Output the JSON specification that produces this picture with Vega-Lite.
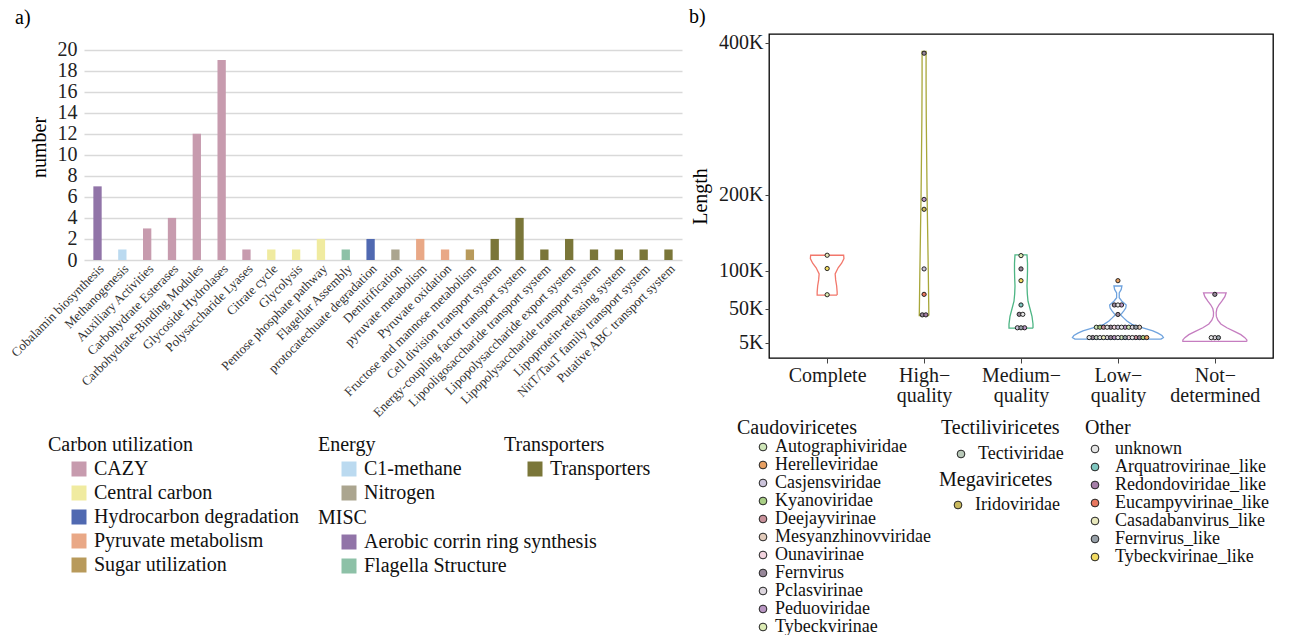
{
  "$schema": "https://vega.github.io/schema/vega-lite/v6.json",
  "padding": {"left": 8, "top": 6, "right": 5, "bottom": 5},
  "bounds": "flush",
  "spacing": 87,
  "config": {
    "font": "Liberation Serif",
    "view": {"stroke": null},
    "title": {"font": "Liberation Serif", "fontSize": 20, "fontWeight": "normal", "anchor": "start", "color": "#000"},
    "legend": {"titleFont": "Liberation Serif", "labelFont": "Liberation Serif", "titleFontSize": 20, "labelFontSize": 20, "titleFontWeight": "normal", "titleColor": "#111", "labelColor": "#111", "padding": 0, "labelLimit": 400, "titleLimit": 400, "orient": "none"}
  },
  "datasets": {
    "bars": [
      {"pathway": "Cobalamin biosynthesis", "number": 7, "group": "MISC", "sub": "Aerobic corrin ring synthesis"},
      {"pathway": "Methanogenesis", "number": 1, "group": "Energy", "sub": "C1-methane"},
      {"pathway": "Auxiliary Activities", "number": 3, "group": "Carbon utilization", "sub": "CAZY"},
      {"pathway": "Carbohydrate Esterases", "number": 4, "group": "Carbon utilization", "sub": "CAZY"},
      {"pathway": "Carbohydrate-Binding Modules", "number": 12, "group": "Carbon utilization", "sub": "CAZY"},
      {"pathway": "Glycoside Hydrolases", "number": 19, "group": "Carbon utilization", "sub": "CAZY"},
      {"pathway": "Polysaccharide Lyases", "number": 1, "group": "Carbon utilization", "sub": "CAZY"},
      {"pathway": "Citrate cycle", "number": 1, "group": "Carbon utilization", "sub": "Central carbon"},
      {"pathway": "Glycolysis", "number": 1, "group": "Carbon utilization", "sub": "Central carbon"},
      {"pathway": "Pentose phosphate pathway", "number": 2, "group": "Carbon utilization", "sub": "Central carbon"},
      {"pathway": "Flagellar Assembly", "number": 1, "group": "MISC", "sub": "Flagella Structure"},
      {"pathway": "protocatechuate degradation", "number": 2, "group": "Carbon utilization", "sub": "Hydrocarbon degradation"},
      {"pathway": "Denitrification", "number": 1, "group": "Energy", "sub": "Nitrogen"},
      {"pathway": "pyruvate metabolism", "number": 2, "group": "Carbon utilization", "sub": "Pyruvate metabolism"},
      {"pathway": "Pyruvate oxidation", "number": 1, "group": "Carbon utilization", "sub": "Pyruvate metabolism"},
      {"pathway": "Fructose and mannose metabolism", "number": 1, "group": "Carbon utilization", "sub": "Sugar utilization"},
      {"pathway": "Cell division transport system", "number": 2, "group": "Transporters", "sub": "Transporters"},
      {"pathway": "Energy-coupling factor transport system", "number": 4, "group": "Transporters", "sub": "Transporters"},
      {"pathway": "Lipooligosaccharide transport system", "number": 1, "group": "Transporters", "sub": "Transporters"},
      {"pathway": "Lipopolysaccharide export system", "number": 2, "group": "Transporters", "sub": "Transporters"},
      {"pathway": "Lipopolysaccharide transport system", "number": 1, "group": "Transporters", "sub": "Transporters"},
      {"pathway": "Lipoprotein-releasing system", "number": 1, "group": "Transporters", "sub": "Transporters"},
      {"pathway": "NitT/TauT family transport system", "number": 1, "group": "Transporters", "sub": "Transporters"},
      {"pathway": "Putative ABC transport system", "number": 1, "group": "Transporters", "sub": "Transporters"}
    ],
    "violin": [
      {"quality": "Complete", "Length": 68000, "density": 10, "o": 1},
      {"quality": "Complete", "Length": 72000, "density": 10, "o": 2},
      {"quality": "Complete", "Length": 80000, "density": 9.5, "o": 3},
      {"quality": "Complete", "Length": 88000, "density": 8.5, "o": 4},
      {"quality": "Complete", "Length": 96000, "density": 8, "o": 5},
      {"quality": "Complete", "Length": 104000, "density": 11, "o": 6},
      {"quality": "Complete", "Length": 110000, "density": 14.5, "o": 7},
      {"quality": "Complete", "Length": 116000, "density": 16.8, "o": 8},
      {"quality": "Complete", "Length": 120500, "density": 16.5, "o": 9},
      {"quality": "Complete", "Length": 120500, "density": -16.5, "o": 10},
      {"quality": "Complete", "Length": 116000, "density": -16.8, "o": 11},
      {"quality": "Complete", "Length": 110000, "density": -14.5, "o": 12},
      {"quality": "Complete", "Length": 104000, "density": -11, "o": 13},
      {"quality": "Complete", "Length": 96000, "density": -8, "o": 14},
      {"quality": "Complete", "Length": 88000, "density": -8.5, "o": 15},
      {"quality": "Complete", "Length": 80000, "density": -9.5, "o": 16},
      {"quality": "Complete", "Length": 72000, "density": -10, "o": 17},
      {"quality": "Complete", "Length": 68000, "density": -10, "o": 18},
      {"quality": "Complete", "Length": 68000, "density": 10, "o": 19},
      {"quality": "High-quality", "Length": 41000, "density": 4.8, "o": 1},
      {"quality": "High-quality", "Length": 60000, "density": 4.6, "o": 2},
      {"quality": "High-quality", "Length": 100000, "density": 4.2, "o": 3},
      {"quality": "High-quality", "Length": 150000, "density": 3.6, "o": 4},
      {"quality": "High-quality", "Length": 200000, "density": 3.0, "o": 5},
      {"quality": "High-quality", "Length": 250000, "density": 2.6, "o": 6},
      {"quality": "High-quality", "Length": 300000, "density": 2.2, "o": 7},
      {"quality": "High-quality", "Length": 350000, "density": 2.0, "o": 8},
      {"quality": "High-quality", "Length": 389000, "density": 2.0, "o": 9},
      {"quality": "High-quality", "Length": 389000, "density": -2.0, "o": 10},
      {"quality": "High-quality", "Length": 350000, "density": -2.0, "o": 11},
      {"quality": "High-quality", "Length": 300000, "density": -2.2, "o": 12},
      {"quality": "High-quality", "Length": 250000, "density": -2.6, "o": 13},
      {"quality": "High-quality", "Length": 200000, "density": -3.0, "o": 14},
      {"quality": "High-quality", "Length": 150000, "density": -3.6, "o": 15},
      {"quality": "High-quality", "Length": 100000, "density": -4.2, "o": 16},
      {"quality": "High-quality", "Length": 60000, "density": -4.6, "o": 17},
      {"quality": "High-quality", "Length": 41000, "density": -4.8, "o": 18},
      {"quality": "High-quality", "Length": 41000, "density": 4.8, "o": 19},
      {"quality": "Medium-quality", "Length": 24500, "density": 12, "o": 1},
      {"quality": "Medium-quality", "Length": 30000, "density": 12, "o": 2},
      {"quality": "Medium-quality", "Length": 40000, "density": 11, "o": 3},
      {"quality": "Medium-quality", "Length": 50000, "density": 9, "o": 4},
      {"quality": "Medium-quality", "Length": 60000, "density": 7, "o": 5},
      {"quality": "Medium-quality", "Length": 70000, "density": 6.3, "o": 6},
      {"quality": "Medium-quality", "Length": 80000, "density": 6, "o": 7},
      {"quality": "Medium-quality", "Length": 90000, "density": 6.3, "o": 8},
      {"quality": "Medium-quality", "Length": 100000, "density": 6.5, "o": 9},
      {"quality": "Medium-quality", "Length": 110000, "density": 6.5, "o": 10},
      {"quality": "Medium-quality", "Length": 121000, "density": 6, "o": 11},
      {"quality": "Medium-quality", "Length": 121000, "density": -6, "o": 12},
      {"quality": "Medium-quality", "Length": 110000, "density": -6.5, "o": 13},
      {"quality": "Medium-quality", "Length": 100000, "density": -6.5, "o": 14},
      {"quality": "Medium-quality", "Length": 90000, "density": -6.3, "o": 15},
      {"quality": "Medium-quality", "Length": 80000, "density": -6, "o": 16},
      {"quality": "Medium-quality", "Length": 70000, "density": -6.3, "o": 17},
      {"quality": "Medium-quality", "Length": 60000, "density": -7, "o": 18},
      {"quality": "Medium-quality", "Length": 50000, "density": -9, "o": 19},
      {"quality": "Medium-quality", "Length": 40000, "density": -11, "o": 20},
      {"quality": "Medium-quality", "Length": 30000, "density": -12, "o": 21},
      {"quality": "Medium-quality", "Length": 24500, "density": -12, "o": 22},
      {"quality": "Medium-quality", "Length": 24500, "density": 12, "o": 23},
      {"quality": "Low-quality", "Length": 10000, "density": 43, "o": 1},
      {"quality": "Low-quality", "Length": 12000, "density": 45.5, "o": 2},
      {"quality": "Low-quality", "Length": 15000, "density": 44, "o": 3},
      {"quality": "Low-quality", "Length": 18000, "density": 40, "o": 4},
      {"quality": "Low-quality", "Length": 21000, "density": 35, "o": 5},
      {"quality": "Low-quality", "Length": 25000, "density": 25, "o": 6},
      {"quality": "Low-quality", "Length": 29500, "density": 14, "o": 7},
      {"quality": "Low-quality", "Length": 34000, "density": 9, "o": 8},
      {"quality": "Low-quality", "Length": 38000, "density": 5.7, "o": 9},
      {"quality": "Low-quality", "Length": 42000, "density": 2.7, "o": 10},
      {"quality": "Low-quality", "Length": 47000, "density": 5.7, "o": 11},
      {"quality": "Low-quality", "Length": 51000, "density": 7.8, "o": 12},
      {"quality": "Low-quality", "Length": 55000, "density": 8.3, "o": 13},
      {"quality": "Low-quality", "Length": 60000, "density": 4, "o": 14},
      {"quality": "Low-quality", "Length": 64500, "density": 1.3, "o": 15},
      {"quality": "Low-quality", "Length": 71000, "density": 1.3, "o": 16},
      {"quality": "Low-quality", "Length": 75500, "density": 3.3, "o": 17},
      {"quality": "Low-quality", "Length": 80000, "density": 4, "o": 18},
      {"quality": "Low-quality", "Length": 80000, "density": -4, "o": 19},
      {"quality": "Low-quality", "Length": 75500, "density": -3.3, "o": 20},
      {"quality": "Low-quality", "Length": 71000, "density": -1.3, "o": 21},
      {"quality": "Low-quality", "Length": 64500, "density": -1.3, "o": 22},
      {"quality": "Low-quality", "Length": 60000, "density": -4, "o": 23},
      {"quality": "Low-quality", "Length": 55000, "density": -8.3, "o": 24},
      {"quality": "Low-quality", "Length": 51000, "density": -7.8, "o": 25},
      {"quality": "Low-quality", "Length": 47000, "density": -5.7, "o": 26},
      {"quality": "Low-quality", "Length": 42000, "density": -2.7, "o": 27},
      {"quality": "Low-quality", "Length": 38000, "density": -5.7, "o": 28},
      {"quality": "Low-quality", "Length": 34000, "density": -9, "o": 29},
      {"quality": "Low-quality", "Length": 29500, "density": -14, "o": 30},
      {"quality": "Low-quality", "Length": 25000, "density": -25, "o": 31},
      {"quality": "Low-quality", "Length": 21000, "density": -35, "o": 32},
      {"quality": "Low-quality", "Length": 18000, "density": -40, "o": 33},
      {"quality": "Low-quality", "Length": 15000, "density": -44, "o": 34},
      {"quality": "Low-quality", "Length": 12000, "density": -45.5, "o": 35},
      {"quality": "Low-quality", "Length": 10000, "density": -43, "o": 36},
      {"quality": "Low-quality", "Length": 10000, "density": 43, "o": 37},
      {"quality": "Not-determined", "Length": 7000, "density": 32, "o": 1},
      {"quality": "Not-determined", "Length": 9000, "density": 32, "o": 2},
      {"quality": "Not-determined", "Length": 12000, "density": 30, "o": 3},
      {"quality": "Not-determined", "Length": 16000, "density": 26, "o": 4},
      {"quality": "Not-determined", "Length": 20000, "density": 20, "o": 5},
      {"quality": "Not-determined", "Length": 25000, "density": 12, "o": 6},
      {"quality": "Not-determined", "Length": 30000, "density": 6, "o": 7},
      {"quality": "Not-determined", "Length": 35000, "density": 3, "o": 8},
      {"quality": "Not-determined", "Length": 40000, "density": 1.5, "o": 9},
      {"quality": "Not-determined", "Length": 45000, "density": 1.3, "o": 10},
      {"quality": "Not-determined", "Length": 50000, "density": 2, "o": 11},
      {"quality": "Not-determined", "Length": 55000, "density": 4, "o": 12},
      {"quality": "Not-determined", "Length": 60000, "density": 7, "o": 13},
      {"quality": "Not-determined", "Length": 66000, "density": 10, "o": 14},
      {"quality": "Not-determined", "Length": 71000, "density": 11.3, "o": 15},
      {"quality": "Not-determined", "Length": 71000, "density": -11.3, "o": 16},
      {"quality": "Not-determined", "Length": 66000, "density": -10, "o": 17},
      {"quality": "Not-determined", "Length": 60000, "density": -7, "o": 18},
      {"quality": "Not-determined", "Length": 55000, "density": -4, "o": 19},
      {"quality": "Not-determined", "Length": 50000, "density": -2, "o": 20},
      {"quality": "Not-determined", "Length": 45000, "density": -1.3, "o": 21},
      {"quality": "Not-determined", "Length": 40000, "density": -1.5, "o": 22},
      {"quality": "Not-determined", "Length": 35000, "density": -3, "o": 23},
      {"quality": "Not-determined", "Length": 30000, "density": -6, "o": 24},
      {"quality": "Not-determined", "Length": 25000, "density": -12, "o": 25},
      {"quality": "Not-determined", "Length": 20000, "density": -20, "o": 26},
      {"quality": "Not-determined", "Length": 16000, "density": -26, "o": 27},
      {"quality": "Not-determined", "Length": 12000, "density": -30, "o": 28},
      {"quality": "Not-determined", "Length": 9000, "density": -32, "o": 29},
      {"quality": "Not-determined", "Length": 7000, "density": -32, "o": 30},
      {"quality": "Not-determined", "Length": 7000, "density": 32, "o": 31}
    ],
    "dots": [
      {"quality": "Complete", "Length": 120500, "family": "Casadabanvirus_like", "class": "Other"},
      {"quality": "Complete", "Length": 103000, "family": "Tybeckvirinae_like", "class": "Other"},
      {"quality": "Complete", "Length": 68500, "family": "Tybeckvirinae", "class": "Caudoviricetes"},
      {"quality": "High-quality", "Length": 386500, "family": "Fernvirus", "class": "Caudoviricetes"},
      {"quality": "High-quality", "Length": 194000, "family": "Peduoviridae", "class": "Caudoviricetes"},
      {"quality": "High-quality", "Length": 181000, "family": "Iridoviridae", "class": "Megaviricetes"},
      {"quality": "High-quality", "Length": 102500, "family": "Casjensviridae", "class": "Caudoviricetes"},
      {"quality": "High-quality", "Length": 69000, "family": "Eucampyvirinae_like", "class": "Other"},
      {"quality": "High-quality", "Length": 42000, "family": "Fernvirus", "class": "Caudoviricetes"},
      {"quality": "High-quality", "Length": 42000, "family": "Redondoviridae_like", "class": "Other"},
      {"quality": "Medium-quality", "Length": 120000, "family": "Tybeckvirinae", "class": "Caudoviricetes"},
      {"quality": "Medium-quality", "Length": 102500, "family": "Fernvirus", "class": "Caudoviricetes"},
      {"quality": "Medium-quality", "Length": 87000, "family": "Tybeckvirinae_like", "class": "Other"},
      {"quality": "Medium-quality", "Length": 55000, "family": "Arquatrovirinae_like", "class": "Other"},
      {"quality": "Medium-quality", "Length": 42700, "family": "Fernvirus", "class": "Caudoviricetes"},
      {"quality": "Medium-quality", "Length": 42700, "family": "unknown", "class": "Other"},
      {"quality": "Medium-quality", "Length": 25000, "family": "Casjensviridae", "class": "Caudoviricetes"},
      {"quality": "Medium-quality", "Length": 25000, "family": "Fernvirus_like", "class": "Other"},
      {"quality": "Medium-quality", "Length": 25000, "family": "Peduoviridae", "class": "Caudoviricetes"},
      {"quality": "Low-quality", "Length": 87000, "family": "Herelleviridae", "class": "Caudoviricetes"},
      {"quality": "Low-quality", "Length": 55000, "family": "Fernvirus", "class": "Caudoviricetes"},
      {"quality": "Low-quality", "Length": 55000, "family": "unknown", "class": "Other"},
      {"quality": "Low-quality", "Length": 55000, "family": "Peduoviridae", "class": "Caudoviricetes"},
      {"quality": "Low-quality", "Length": 42500, "family": "Fernvirus", "class": "Caudoviricetes"},
      {"quality": "Low-quality", "Length": 25700, "family": "Autographiviridae", "class": "Caudoviricetes"},
      {"quality": "Low-quality", "Length": 25700, "family": "Kyanoviridae", "class": "Caudoviricetes"},
      {"quality": "Low-quality", "Length": 25700, "family": "Deejayvirinae", "class": "Caudoviricetes"},
      {"quality": "Low-quality", "Length": 25700, "family": "unknown", "class": "Other"},
      {"quality": "Low-quality", "Length": 25700, "family": "Fernvirus", "class": "Caudoviricetes"},
      {"quality": "Low-quality", "Length": 25700, "family": "Ounavirinae", "class": "Caudoviricetes"},
      {"quality": "Low-quality", "Length": 25700, "family": "Casjensviridae", "class": "Caudoviricetes"},
      {"quality": "Low-quality", "Length": 25700, "family": "unknown", "class": "Other"},
      {"quality": "Low-quality", "Length": 25700, "family": "Peduoviridae", "class": "Caudoviricetes"},
      {"quality": "Low-quality", "Length": 25700, "family": "Autographiviridae", "class": "Caudoviricetes"},
      {"quality": "Low-quality", "Length": 25700, "family": "Pclasvirinae", "class": "Caudoviricetes"},
      {"quality": "Low-quality", "Length": 25700, "family": "Fernvirus_like", "class": "Other"},
      {"quality": "Low-quality", "Length": 25700, "family": "Mesyanzhinovviridae", "class": "Caudoviricetes"},
      {"quality": "Low-quality", "Length": 12100, "family": "unknown", "class": "Other"},
      {"quality": "Low-quality", "Length": 12100, "family": "Fernvirus", "class": "Caudoviricetes"},
      {"quality": "Low-quality", "Length": 12100, "family": "Tectiviridae", "class": "Tectiliviricetes"},
      {"quality": "Low-quality", "Length": 12100, "family": "unknown", "class": "Other"},
      {"quality": "Low-quality", "Length": 12100, "family": "Casadabanvirus_like", "class": "Other"},
      {"quality": "Low-quality", "Length": 12100, "family": "Pclasvirinae", "class": "Caudoviricetes"},
      {"quality": "Low-quality", "Length": 12100, "family": "Fernvirus", "class": "Caudoviricetes"},
      {"quality": "Low-quality", "Length": 12100, "family": "Peduoviridae", "class": "Caudoviricetes"},
      {"quality": "Low-quality", "Length": 12100, "family": "unknown", "class": "Other"},
      {"quality": "Low-quality", "Length": 12100, "family": "Autographiviridae", "class": "Caudoviricetes"},
      {"quality": "Low-quality", "Length": 12100, "family": "Fernvirus_like", "class": "Other"},
      {"quality": "Low-quality", "Length": 12100, "family": "Ounavirinae", "class": "Caudoviricetes"},
      {"quality": "Low-quality", "Length": 12100, "family": "unknown", "class": "Other"},
      {"quality": "Low-quality", "Length": 12100, "family": "Deejayvirinae", "class": "Caudoviricetes"},
      {"quality": "Low-quality", "Length": 12100, "family": "Fernvirus", "class": "Caudoviricetes"},
      {"quality": "Low-quality", "Length": 12100, "family": "Kyanoviridae", "class": "Caudoviricetes"},
      {"quality": "Low-quality", "Length": 12100, "family": "Herelleviridae", "class": "Caudoviricetes"},
      {"quality": "Not-determined", "Length": 69000, "family": "Fernvirus", "class": "Caudoviricetes"},
      {"quality": "Not-determined", "Length": 12000, "family": "unknown", "class": "Other"},
      {"quality": "Not-determined", "Length": 12000, "family": "Pclasvirinae", "class": "Caudoviricetes"},
      {"quality": "Not-determined", "Length": 12000, "family": "Fernvirus_like", "class": "Other"}
    ]
  },
  "hconcat": [
    {
      "width": 598,
      "height": 226,
      "title": {"text": "a)", "frame": "group", "anchor": "start", "dx": -69, "offset": 6},
      "data": {"name": "bars"},
      "encoding": {
        "x": {
          "field": "pathway", "type": "nominal",
          "scale": {"domain": ["Cobalamin biosynthesis", "Methanogenesis", "Auxiliary Activities", "Carbohydrate Esterases", "Carbohydrate-Binding Modules", "Glycoside Hydrolases", "Polysaccharide Lyases", "Citrate cycle", "Glycolysis", "Pentose phosphate pathway", "Flagellar Assembly", "protocatechuate degradation", "Denitrification", "pyruvate metabolism", "Pyruvate oxidation", "Fructose and mannose metabolism", "Cell division transport system", "Energy-coupling factor transport system", "Lipooligosaccharide transport system", "Lipopolysaccharide export system", "Lipopolysaccharide transport system", "Lipoprotein-releasing system", "NitT/TauT family transport system", "Putative ABC transport system"], "paddingInner": 0.665, "paddingOuter": 0.377},
          "axis": {"title": null, "labelAngle": -45, "labelFontSize": 13, "labelColor": "#333", "domain": false, "ticks": false, "labelPadding": 2, "labelLimit": 400}
        },
        "y": {
          "field": "number", "type": "quantitative",
          "scale": {"domain": [0, 21.48], "nice": false},
          "axis": {"title": "number", "values": [0, 2, 4, 6, 8, 10, 12, 14, 16, 18, 20], "labelFontSize": 20, "labelColor": "#222", "titleFontSize": 20, "titleFontWeight": "normal", "titleColor": "#000", "domain": false, "ticks": false, "gridColor": "#d9d9d9", "gridWidth": 1.3, "labelPadding": 7, "titlePadding": 8}
        }
      },
      "layer": [
        {
          "transform": [{"filter": "datum.group === 'Carbon utilization'"}],
          "mark": {"type": "bar"},
          "encoding": {"color": {"field": "sub", "type": "nominal",
            "scale": {"domain": ["CAZY", "Central carbon", "Hydrocarbon degradation", "Pyruvate metabolism", "Sugar utilization"], "range": ["#c79bae", "#f0eba0", "#5069b1", "#e9a886", "#b89a5b"]},
            "legend": {"title": "Carbon utilization", "legendX": -36, "legendY": 401, "titlePadding": 4, "rowPadding": 4, "symbolType": "square", "symbolSize": 225, "symbolStrokeWidth": 0, "symbolOffset": 21, "labelOffset": 5}}}
        },
        {
          "transform": [{"filter": "datum.group === 'Energy'"}],
          "mark": {"type": "bar"},
          "encoding": {"color": {"field": "sub", "type": "nominal",
            "scale": {"domain": ["C1-methane", "Nitrogen"], "range": ["#bbdaf0", "#aba58f"]},
            "legend": {"title": "Energy", "legendX": 234, "legendY": 401, "titlePadding": 4, "rowPadding": 4, "symbolType": "square", "symbolSize": 225, "symbolStrokeWidth": 0, "symbolOffset": 21, "labelOffset": 5}}}
        },
        {
          "transform": [{"filter": "datum.group === 'MISC'"}],
          "mark": {"type": "bar"},
          "encoding": {"color": {"field": "sub", "type": "nominal",
            "scale": {"domain": ["Aerobic corrin ring synthesis", "Flagella Structure"], "range": ["#9174a8", "#8dc1a7"]},
            "legend": {"title": "MISC", "legendX": 234, "legendY": 474, "titlePadding": 4, "rowPadding": 4, "symbolType": "square", "symbolSize": 225, "symbolStrokeWidth": 0, "symbolOffset": 21, "labelOffset": 5}}}
        },
        {
          "transform": [{"filter": "datum.group === 'Transporters'"}],
          "mark": {"type": "bar"},
          "encoding": {"color": {"field": "sub", "type": "nominal",
            "scale": {"domain": ["Transporters"], "range": ["#7a7639"]},
            "legend": {"title": "Transporters", "legendX": 420, "legendY": 401, "titlePadding": 4, "rowPadding": 4, "symbolType": "square", "symbolSize": 225, "symbolStrokeWidth": 0, "symbolOffset": 21, "labelOffset": 5}}}
        }
      ],
      "resolve": {"scale": {"color": "independent"}}
    },
    {
      "width": 504,
      "height": 324,
      "view": {"stroke": "#000", "strokeWidth": 1.3},
      "title": {"text": "b)", "frame": "group", "anchor": "start", "dx": -80, "offset": 6},
      "encoding": {
        "x": {
          "field": "quality", "type": "nominal",
          "scale": {"type": "point", "padding": 0.6, "domain": ["Complete", "High-quality", "Medium-quality", "Low-quality", "Not-determined"]},
          "axis": {"title": null, "labelAngle": 0, "labelFontSize": 20, "labelColor": "#1a1a1a", "tickColor": "#444", "tickSize": 5, "domain": false, "grid": false, "labelPadding": 2, "labelLineHeight": 20, "labelExpr": "split(replace(datum.value, '-', '−|'), '|')"}
        },
        "y": {
          "field": "Length", "type": "quantitative",
          "scale": {"domain": [-14800, 411800], "nice": false, "zero": false},
          "axis": {"title": "Length", "values": [5000, 50000, 100000, 200000, 400000], "labelExpr": "datum.value / 1000 + 'K'", "labelFontSize": 20, "labelColor": "#1a1a1a", "tickColor": "#444", "tickSize": 4, "labelPadding": 2, "domain": false, "grid": false, "titleFontSize": 20, "titleFontWeight": "normal", "titleColor": "#000", "titlePadding": 8}
        }
      },
      "layer": [
        {
          "data": {"name": "violin"},
          "mark": {"type": "line", "strokeWidth": 1.3},
          "encoding": {
            "xOffset": {"field": "density", "type": "quantitative", "scale": {"domain": [-50, 50], "range": [-50, 50]}},
            "order": {"field": "o", "type": "quantitative"},
            "color": {"field": "quality", "type": "nominal", "legend": null,
              "scale": {"domain": ["Complete", "High-quality", "Medium-quality", "Low-quality", "Not-determined"], "range": ["#f2776b", "#a8a73a", "#4db584", "#6fa3de", "#c57dc0"]}}
          }
        },
        {
          "data": {"name": "dots"},
          "transform": [
            {"joinaggregate": [{"op": "count", "as": "n"}], "groupby": ["quality", "Length"]},
            {"window": [{"op": "row_number", "as": "rn"}], "groupby": ["quality", "Length"]},
            {"calculate": "datum.rn - (datum.n + 1) / 2", "as": "slot"},
            {"filter": "datum.class === 'Caudoviricetes'"}
          ],
          "mark": {"type": "point", "filled": true, "stroke": "#111", "strokeWidth": 0.9, "size": 18, "opacity": 1},
          "encoding": {
            "xOffset": {"field": "slot", "type": "quantitative", "scale": {"domain": [-10, 10], "range": [-36, 36]}},
            "fill": {"field": "family", "type": "nominal",
              "scale": {"domain": ["Autographiviridae", "Herelleviridae", "Casjensviridae", "Kyanoviridae", "Deejayvirinae", "Mesyanzhinovviridae", "Ounavirinae", "Fernvirus", "Pclasvirinae", "Peduoviridae", "Tybeckvirinae"], "range": ["#cfe6b8", "#e8a062", "#cbc3da", "#a9cf86", "#c8919a", "#e2cbbb", "#f2d3de", "#978799", "#ddd6de", "#b896c2", "#dcebb4"]},
              "legend": {"title": "Caudoviricetes", "legendX": -32, "legendY": 384, "titlePadding": 0, "rowPadding": 0, "labelFontSize": 18, "symbolType": "circle", "symbolSize": 60, "symbolStrokeColor": "#222", "symbolStrokeWidth": 1, "symbolOffset": 17, "labelOffset": 3}}
          }
        },
        {
          "data": {"name": "dots"},
          "transform": [
            {"joinaggregate": [{"op": "count", "as": "n"}], "groupby": ["quality", "Length"]},
            {"window": [{"op": "row_number", "as": "rn"}], "groupby": ["quality", "Length"]},
            {"calculate": "datum.rn - (datum.n + 1) / 2", "as": "slot"},
            {"filter": "datum.class === 'Tectiliviricetes'"}
          ],
          "mark": {"type": "point", "filled": true, "stroke": "#111", "strokeWidth": 0.9, "size": 18, "opacity": 1},
          "encoding": {
            "xOffset": {"field": "slot", "type": "quantitative", "scale": {"domain": [-10, 10], "range": [-36, 36]}},
            "fill": {"field": "family", "type": "nominal",
              "scale": {"domain": ["Tectiviridae"], "range": ["#b9c9b9"]},
              "legend": {"title": "Tectiliviricetes", "legendX": 172, "legendY": 384, "titlePadding": 7, "rowPadding": 0, "labelFontSize": 18, "symbolType": "circle", "symbolSize": 60, "symbolStrokeColor": "#222", "symbolStrokeWidth": 1, "symbolOffset": 11, "labelOffset": 8}}
          }
        },
        {
          "data": {"name": "dots"},
          "transform": [
            {"joinaggregate": [{"op": "count", "as": "n"}], "groupby": ["quality", "Length"]},
            {"window": [{"op": "row_number", "as": "rn"}], "groupby": ["quality", "Length"]},
            {"calculate": "datum.rn - (datum.n + 1) / 2", "as": "slot"},
            {"filter": "datum.class === 'Megaviricetes'"}
          ],
          "mark": {"type": "point", "filled": true, "stroke": "#111", "strokeWidth": 0.9, "size": 18, "opacity": 1},
          "encoding": {
            "xOffset": {"field": "slot", "type": "quantitative", "scale": {"domain": [-10, 10], "range": [-36, 36]}},
            "fill": {"field": "family", "type": "nominal",
              "scale": {"domain": ["Iridoviridae"], "range": ["#c9b95e"]},
              "legend": {"title": "Megaviricetes", "legendX": 170, "legendY": 436, "titlePadding": 6, "rowPadding": 0, "labelFontSize": 18, "symbolType": "circle", "symbolSize": 60, "symbolStrokeColor": "#222", "symbolStrokeWidth": 1, "symbolOffset": 10, "labelOffset": 8}}
          }
        },
        {
          "data": {"name": "dots"},
          "transform": [
            {"joinaggregate": [{"op": "count", "as": "n"}], "groupby": ["quality", "Length"]},
            {"window": [{"op": "row_number", "as": "rn"}], "groupby": ["quality", "Length"]},
            {"calculate": "datum.rn - (datum.n + 1) / 2", "as": "slot"},
            {"filter": "datum.class === 'Other'"}
          ],
          "mark": {"type": "point", "filled": true, "stroke": "#111", "strokeWidth": 0.9, "size": 18, "opacity": 1},
          "encoding": {
            "xOffset": {"field": "slot", "type": "quantitative", "scale": {"domain": [-10, 10], "range": [-36, 36]}},
            "fill": {"field": "family", "type": "nominal",
              "scale": {"domain": ["unknown", "Arquatrovirinae_like", "Redondoviridae_like", "Eucampyvirinae_like", "Casadabanvirus_like", "Fernvirus_like", "Tybeckvirinae_like"], "range": ["#e6e6e6", "#7fc7c0", "#a67ea8", "#e8775f", "#e8e8bc", "#97a0a8", "#f2db62"]},
              "legend": {"title": "Other", "legendX": 316, "legendY": 384, "titlePadding": 2, "rowPadding": 0, "labelFontSize": 18, "symbolType": "circle", "symbolSize": 60, "symbolStrokeColor": "#222", "symbolStrokeWidth": 1, "symbolOffset": 1, "labelOffset": 11}}
          }
        }
      ],
      "resolve": {"scale": {"fill": "independent", "xOffset": "independent"}}
    }
  ]
}
